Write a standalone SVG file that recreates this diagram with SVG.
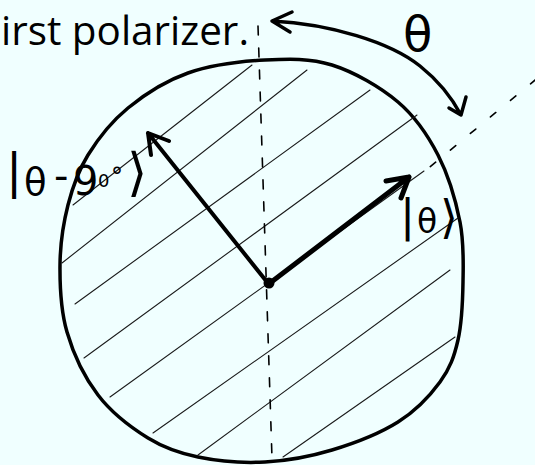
<svg xmlns="http://www.w3.org/2000/svg" width="535" height="465" viewBox="0 0 535 465">
<style>
 .ink{fill:none;stroke:#000;stroke-linecap:round;stroke-linejoin:round}
 .hatch{fill:none;stroke:#1a1a1a;stroke-width:1.1;stroke-linecap:round}
 .dash{fill:none;stroke:#000;stroke-width:1.6;stroke-linecap:round}
 .lab{font-family:"DejaVu Sans",sans-serif;fill:#000}
 .cap{font-family:"Open Sans","Liberation Sans",sans-serif;fill:#000}
</style>
<rect width="535" height="465" fill="#f0ffff"/>
<g id="caption">
<text class="cap" x="1" y="45" font-size="40" textLength="248" lengthAdjust="spacingAndGlyphs">irst polarizer.</text>
</g>
<g id="disk">
<path class="ink" stroke-width="3.5" d="M265,60 C289,58.7 309.8,58 332,65 C354.2,72 380.3,87 398,102 C415.7,117 427.7,135 438,155 C448.3,175 455.8,200.8 460,222 C464.2,243.2 463.3,262.3 463,282 C462.7,301.7 461.8,323.3 458,340 C454.2,356.7 450,368.3 440,382 C430,395.7 416,410.7 398,422 C380,433.3 354.2,443.3 332,450 C309.8,456.7 287.3,460.8 265,462 C242.7,463.2 217.5,461 198,457 C178.5,453 164.7,448.3 148,438 C131.3,427.7 111.5,412.7 98,395 C84.5,377.3 73.3,353.7 67,332 C60.7,310.3 59.8,286.2 60,265 C60.2,243.8 63.3,223.3 68,205 C72.7,186.7 78,171.2 88,155 C98,138.8 111.3,121.7 128,108 C144.7,94.3 165.2,81 188,73 C210.8,65 241,61.3 265,60 Z"/>
</g>
<g id="hatching" class="hatch">
<path d="M73,205 L252,65"/>
<path d="M62,263 L307,70"/>
<path d="M75,304 L370,90"/>
<path d="M84,358 L417,115"/>
<path d="M110,397 L424,171"/>
<path d="M153,433 L458,218"/>
<path d="M198,455 L450,270"/>
<path d="M283,457 L455,337"/>
</g>
<g id="axes" class="dash">
<path d="M258,26 L272,458" stroke-dasharray="9 13"/>
<path d="M430.3,166.6 L540,76" stroke-dasharray="7 19"/>
</g>
<g id="connectors">
<path class="ink" stroke-width="4" d="M267,282 L148,133 M151,155 L148,133 L169,141"/>
<path class="ink" stroke-width="5" d="M270,283 L409,177 M386,181 L409,177 L401,198"/>
<circle cx="269" cy="283" r="5.5" fill="#000"/>
<path class="ink" stroke-width="3.5" d="M272,21 C330,24 390,42 420,66 C440,82 452,98 461,115 M292,12 L272,21 L290,32 M466,97 L461,115 L449,108"/>
</g>
<g id="label-theta">
<text class="lab" x="403" y="51" font-size="48">θ</text>
</g>
<g id="label-ket-perp">
<text class="lab"><tspan x="6" y="188" font-size="48">|</tspan><tspan x="24" y="195" font-size="37">θ</tspan><tspan x="54" y="190" font-size="40">-</tspan><tspan x="73" y="195" font-size="40">9</tspan><tspan x="98" y="187" font-size="18">0</tspan><tspan x="111" y="185" font-size="24">°</tspan><tspan x="127" y="190" font-size="52">⟩</tspan></text>
</g>
<g id="label-ket-theta">
<text class="lab"><tspan x="400" y="231" font-size="45">|</tspan><tspan x="417" y="233" font-size="33">θ</tspan><tspan x="440" y="233" font-size="46">⟩</tspan></text>
</g>
</svg>
